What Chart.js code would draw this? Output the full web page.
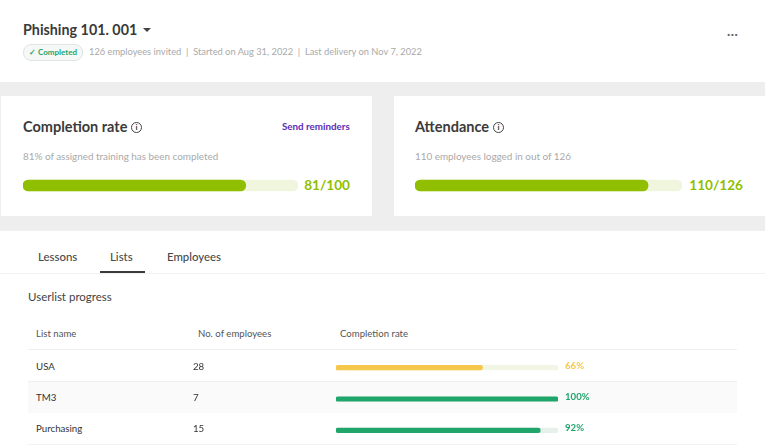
<!DOCTYPE html>
<html>
<head>
<meta charset="utf-8">
<script src="https://cdn.jsdelivr.net/npm/chart.js@4/dist/chart.umd.min.js"></script>
<style>
  html, body { margin: 0; padding: 0; }
  body { width: 765px; height: 447px; position: relative; overflow: hidden; background: #fff; font-family: Lato, "Open Sans", sans-serif; color: #3a3a3a; }
  .abs { position: absolute; white-space: nowrap; }
  .band { position: absolute; background: #eeeeee; }
  .title { font-size: 14.5px; font-weight: 700; line-height: 20px; }
  .desc { font-size: 9.9px; color: #a9a9a9; line-height: 12px; }
  .score { font-size: 13.6px; font-weight: 700; color: #8fbf00; line-height: 18px; }
  .info { width: 9px; height: 9px; border: 1px solid #444; border-radius: 50%; font-size: 8px; line-height: 9px; text-align: center; font-weight: 700; }
  .tab { font-size: 11.4px; line-height: 14px; color: #4a4a4a; font-weight: 500; }
  .head { font-size: 9.6px; line-height: 12px; color: #555; }
  .cell { font-size: 9.7px; line-height: 12px; color: #333; }
  .pct { font-size: 9.6px; line-height: 12px; font-weight: 700; }
  .rule { position: absolute; left: 28px; width: 709px; height: 1px; background: #eeeeee; }
  canvas { position: absolute; }
</style>
</head>
<body>
  <div class="band" style="left:0;top:82px;width:765px;height:14px"></div>
  <div class="band" style="left:0;top:216px;width:765px;height:15px"></div>
  <div class="band" style="left:0;top:96px;width:1px;height:120px"></div>
  <div class="band" style="left:372px;top:96px;width:22px;height:120px"></div>

  <div class="abs" style="left:23px;top:19px;font-size:14.3px;font-weight:700;line-height:22px">Phishing 101. 001</div>
  <div class="abs" style="left:143px;top:28px;width:0;height:0;border:4px solid transparent;border-top:4px solid #444;border-bottom:0"></div>
  <div class="abs" style="left:23px;top:44px;width:58px;height:15px;border:1px solid #dfe6e2;border-radius:8px;background:#f5f8f6;font-size:8px;font-weight:700;line-height:15px;color:#1fa56b;text-align:center">✓ Completed</div>
  <div class="abs desc" style="left:89px;top:46px;font-size:9.3px" id="meta"></div>
  <div class="abs" style="left:727px;top:28px;font-size:12px;font-weight:700;line-height:12px;color:#666;letter-spacing:0.5px">···</div>

  <div class="abs title" style="left:23px;top:117px">Completion rate</div>
  <div class="abs info" style="left:131px;top:122px">i</div>
  <div class="abs" style="left:282px;top:120px;font-size:9.8px;font-weight:700;line-height:13px;color:#5b2db5">Send reminders</div>
  <div class="abs desc" style="left:23px;top:150px" id="completionText"></div>
  <canvas id="completionChart" style="left:23px;top:178px;width:275px;height:15px"></canvas>
  <div class="abs score" style="right:415px;top:176px" id="completionScore"></div>

  <div class="abs title" style="left:415px;top:117px">Attendance</div>
  <div class="abs info" style="left:493px;top:122px">i</div>
  <div class="abs desc" style="left:415px;top:150px" id="attendanceText"></div>
  <canvas id="attendanceChart" style="left:415px;top:178px;width:267px;height:15px"></canvas>
  <div class="abs score" style="right:22px;top:176px" id="attendanceScore"></div>

  <div class="abs tab" style="left:38px;top:250px">Lessons</div>
  <div class="abs tab" style="left:110px;top:250px">Lists</div>
  <div class="abs tab" style="left:167px;top:250px">Employees</div>
  <div class="abs" style="left:100px;top:271px;width:45px;height:2px;background:#3a3a3a"></div>
  <div class="abs" style="left:0;top:273px;width:765px;height:1px;background:#f1f1f1"></div>

  <div class="abs" style="left:28px;top:290px;font-size:11.5px;line-height:13px;color:#444">Userlist progress</div>
  <div class="abs head" style="left:36px;top:328px">List name</div>
  <div class="abs head" style="left:198px;top:328px">No. of employees</div>
  <div class="abs head" style="left:340px;top:328px">Completion rate</div>
  <div class="rule" style="top:349px"></div>
  <div class="rule" style="top:381px"></div>
  <div class="abs" style="left:28px;top:382px;width:709px;height:31px;background:#fafafa"></div>
  <div class="abs" style="left:28px;top:444px;width:709px;height:1px;background:#f3f3f3"></div>
  <div id="rows"></div>
  <canvas id="listChart" style="left:336px;top:352px;width:222px;height:94px"></canvas>

<script>
// Summary cards
const completionDone = 81;
const completionTotal = 100;
const attendanceDone = 110;
const attendanceTotal = 126;

// Userlist table
const listNames = ['USA', 'TM3', 'Purchasing'];
const listEmployees = [28, 7, 15];
const listRates = [66, 100, 92];

// Colours
const limeFill = '#8fbf00';
const limeTrack = '#f0f5dd';
const listFills = ['#f5c74a', '#20a56b', '#20a56b'];
const listTracks = ['#f2f5e4', '#e6f1ec', '#e6f1ec'];

document.getElementById('meta').textContent = '126 employees invited  |  Started on Aug 31, 2022  |  Last delivery on Nov 7, 2022';
document.getElementById('meta').style.whiteSpace = 'pre';
document.getElementById('completionText').textContent = completionDone + '% of assigned training has been completed';
document.getElementById('attendanceText').textContent = attendanceDone + ' employees logged in out of ' + attendanceTotal;
document.getElementById('completionScore').textContent = completionDone + '/' + completionTotal;
document.getElementById('attendanceScore').textContent = attendanceDone + '/' + attendanceTotal;

// Table rows
const rowTops = [360, 391, 422];
const rows = document.getElementById('rows');
listNames.forEach((name, i) => {
    rows.innerHTML += `
        <div class="abs cell" style="left:36px;top:${rowTops[i]}px;z-index:1">${name}</div>
        <div class="abs cell" style="left:193px;top:${rowTops[i]}px;z-index:1">${listEmployees[i]}</div>
        <div class="abs pct" style="left:565px;top:${rowTops[i]}px;z-index:1;color:${listFills[i]}">${listRates[i]}%</div>
    `;
});

function progressChart(id, labels, values, max, fills, tracks, thickness) {
    new Chart(document.getElementById(id), {
        type: 'bar',
        data: {
            labels: labels,
            datasets: [
                {
                    data: values,
                    backgroundColor: fills,
                    barThickness: thickness,
                    borderRadius: thickness / 2,
                    borderSkipped: false,
                    grouped: false,
                    order: 0
                },
                {
                    data: labels.map(() => max),
                    backgroundColor: tracks,
                    barThickness: thickness,
                    borderRadius: thickness / 2,
                    borderSkipped: false,
                    grouped: false,
                    order: 1
                }
            ]
        },
        options: {
            indexAxis: 'y',
            responsive: false,
            animation: false,
            layout: { padding: 0 },
            plugins: { legend: { display: false }, tooltip: { enabled: false } },
            scales: {
                x: { display: false, min: 0, max: max },
                y: { display: false }
            }
        }
    });
}

function sizeCanvas(id) {
    const el = document.getElementById(id);
    el.width = parseInt(el.style.width);
    el.height = parseInt(el.style.height);
}

['completionChart', 'attendanceChart', 'listChart'].forEach(sizeCanvas);
progressChart('completionChart', ['Completion'], [completionDone], completionTotal, limeFill, limeTrack, 11);
progressChart('attendanceChart', ['Attendance'], [attendanceDone], attendanceTotal, limeFill, limeTrack, 11);
progressChart('listChart', listNames, listRates, 100, listFills, listTracks, 4.5);
</script>
</body>
</html>
